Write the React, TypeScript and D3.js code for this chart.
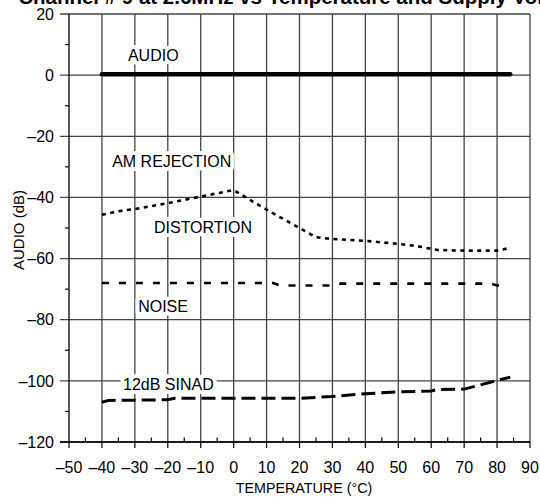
import React from "react";
import * as d3 from "d3";

const xTicks = [-50, -40, -30, -20, -10, 0, 10, 20, 30, 40, 50, 60, 70, 80, 90];
const yTicks = [20, 0, -20, -40, -60, -80, -100, -120];

const audioT = [-40, 84];
const audioV = [0.3, 0.3];

const distT = [-40, -35, -30, -20, -10, 0, 10, 20, 25, 30, 40, 50, 55, 62, 70, 80, 84];
const distV = [-45.7, -44.5, -43.8, -41.9, -39.7, -37.6, -44, -50, -53, -53.6, -54.2, -55.2, -55.8, -57.2, -57.4, -57.4, -56.5];

const noiseT = [-40, 0, 12, 14, 30, 32, 78, 80, 81];
const noiseV = [-68, -68, -68, -68.8, -68.8, -68.2, -68.2, -68.8, -68.8];

const sinadT = [-40, -38, -20, -18, 20, 30, 40, 50, 60, 62, 70, 80, 84];
const sinadV = [-107, -106.4, -106.2, -105.7, -105.7, -105.1, -104.2, -103.6, -103.3, -102.8, -102.7, -99.9, -98.8];

const labels = [
  { text: "AUDIO", t: -32.1, v: 4.6 },
  { text: "AM REJECTION", t: -36.9, v: -29.9 },
  { text: "DISTORTION", t: -24.2, v: -51.7 },
  { text: "NOISE", t: -29, v: -77.5 },
  { text: "12dB SINAD", t: -33.6, v: -103.1 },
];

const W = 540, H = 498;
const x = d3.scaleLinear().domain([-50, 90]).range([69, 530]);
const y = d3.scaleLinear().domain([-120, 20]).range([442, 14]);

function pts(t: number[], v: number[]) {
  return t.map((d, i) => [d, v[i]] as [number, number]);
}
const line = d3.line<[number, number]>().x((d) => x(d[0])).y((d) => y(d[1]));

const font = "Arial, 'Liberation Sans', Helvetica, sans-serif";

export default function App() {
  const minorX = d3.range(-45, 90, 10);
  const minorY = d3.range(10, -120, -20);
  return (
    <svg width={W} height={H} style={{ position: "absolute", left: 0, top: 0, background: "#fff" }} fontFamily={font}>
      <rect x={0} y={0} width={W} height={H} fill="#fff" />
      {/* title */}
      <text x={262} y={3.5} textAnchor="end" fontWeight="bold" fontSize={20.5}>Channel # 9 at 2.6MHz vs</text>
      <text x={268} y={3.5} textAnchor="start" fontWeight="bold" fontSize={20.5}>Temperature and Supply Voltage</text>
      {/* grid */}
      {xTicks.slice(1).map((t) => (
        <line key={"gx" + t} x1={x(t)} x2={x(t)} y1={y(20)} y2={y(-120)} stroke="#444" strokeWidth={1.3} />
      ))}
      {yTicks.map((t) => (
        <line key={"gy" + t} x1={60} x2={x(90)} y1={y(t)} y2={y(t)} stroke="#444" strokeWidth={1.3} />
      ))}
      {/* axes */}
      <line x1={x(-50)} x2={x(-50)} y1={y(20)} y2={y(-120)} stroke="#000" strokeWidth={1.3} />
      <line x1={60} x2={x(90)} y1={y(-120)} y2={y(-120)} stroke="#000" strokeWidth={1.3} />
      {xTicks.map((t) => (
        <line key={"tx" + t} x1={x(t)} x2={x(t)} y1={y(-120)} y2={y(-120) + 6} stroke="#000" strokeWidth={1.2} />
      ))}
      {minorX.map((t) => (
        <line key={"mx" + t} x1={x(t)} x2={x(t)} y1={y(-120)} y2={y(-120) - 4.5} stroke="#000" strokeWidth={1.2} />
      ))}
      {minorY.map((t) => (
        <line key={"my" + t} x1={x(-50) - 4} x2={x(-50)} y1={y(t)} y2={y(t)} stroke="#000" strokeWidth={1.2} />
      ))}
      {yTicks.map((t) => (
        <text key={"ly" + t} x={54} y={y(t)} dy="0.36em" textAnchor="end" fontSize={16}>
          {t < 0 ? "\u2013" + Math.abs(t) : String(t)}
        </text>
      ))}
      {xTicks.map((t) => (
        <text key={"lx" + t} x={x(t)} y={472.5} textAnchor="middle" fontSize={16}>
          {t < 0 ? "\u2013" + Math.abs(t) : String(t)}
        </text>
      ))}
      <text x={304} y={493} textAnchor="middle" fontSize={14.3}>TEMPERATURE (°C)</text>
      <text transform="translate(23.5,230) rotate(-90)" textAnchor="middle" fontSize={15}>AUDIO (dB)</text>
      {/* labels with white backgrounds */}
      {labels.map((l) => (
        <g key={l.text}>
          <text x={x(l.t)} y={y(l.v)} fontSize={16} stroke="#fff" strokeWidth={8} strokeLinejoin="round" fill="#fff">{l.text}</text>
          <text x={x(l.t)} y={y(l.v)} fontSize={16} fill="#000">{l.text}</text>
        </g>
      ))}
      {/* series */}
      <path d={line(pts(audioT, audioV)) || ""} fill="none" stroke="#000" strokeWidth={4.5} strokeLinecap="round" />
      <path d={line(pts(distT, distV)) || ""} fill="none" stroke="#000" strokeWidth={2.6} strokeDasharray="4,4.5" />
      <path d={line(pts(noiseT, noiseV)) || ""} fill="none" stroke="#000" strokeWidth={2.6} strokeDasharray="7,10" />
      <path d={line(pts(sinadT, sinadV)) || ""} fill="none" stroke="#000" strokeWidth={3} strokeDasharray="14,6" />
    </svg>
  );
}
